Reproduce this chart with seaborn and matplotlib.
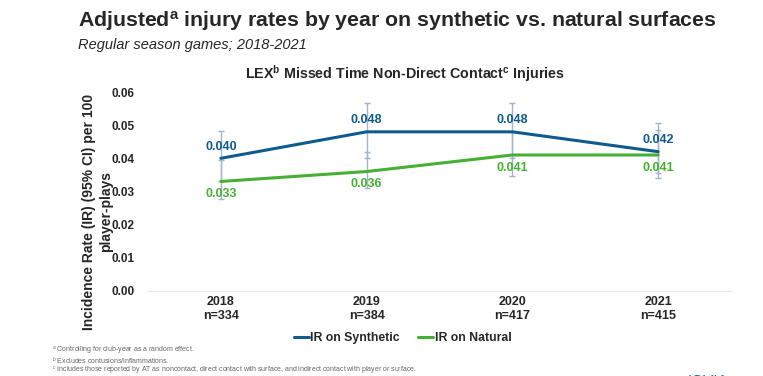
import pandas as pd
import numpy as np
import matplotlib
matplotlib.use('Agg')
import matplotlib.pyplot as plt
import seaborn as sns

sns.set_style('white')
plt.rcParams['font.family'] = ['Liberation Sans', 'DejaVu Sans']
plt.rcParams['mathtext.fontset'] = 'custom'
plt.rcParams['mathtext.rm'] = 'Liberation Sans'
plt.rcParams['mathtext.bf'] = 'Liberation Sans:bold'
plt.rcParams['mathtext.it'] = 'Liberation Sans:italic'

# 데이터
years = ['2018', '2019', '2020', '2021']
n_counts = [334, 384, 417, 415]
synthetic = [0.040, 0.048, 0.048, 0.042]
synthetic_lo = [0.033, 0.040, 0.040, 0.0356]
synthetic_hi = [0.0482, 0.0568, 0.0567, 0.0506]
natural = [0.033, 0.036, 0.041, 0.041]
natural_lo = [0.0276, 0.031, 0.0345, 0.034]
natural_hi = [0.0394, 0.042, 0.048, 0.0486]
yticks = [0.00, 0.01, 0.02, 0.03, 0.04, 0.05, 0.06]

blue = '#0f5b8e'
green = '#46b033'
err_col = '#9fb6cc'

xlabels = [f'{y}\nn={n}' for y, n in zip(years, n_counts)]
df = pd.DataFrame({
    'year': xlabels * 2,
    'ir': synthetic + natural,
    'series': ['IR on Synthetic'] * 4 + ['IR on Natural'] * 4,
})

fig = plt.figure(figsize=(7.63, 3.76), dpi=100)
ax = fig.add_axes([0.194, 0.227, 0.764, 0.528])

pos = np.arange(len(years))
# 신뢰구간 (error bar)
for vals, lo, hi in [(synthetic, synthetic_lo, synthetic_hi), (natural, natural_lo, natural_hi)]:
    v = np.array(vals)
    ax.errorbar(pos, v, yerr=[v - np.array(lo), np.array(hi) - v], fmt='none',
                ecolor=err_col, elinewidth=1, capsize=2, capthick=1, zorder=1)

sns.lineplot(data=df, x='year', y='ir', hue='series', sort=False,
             palette={'IR on Synthetic': blue, 'IR on Natural': green},
             linewidth=2.2, ax=ax, zorder=3)

for i, v in enumerate(synthetic):
    ax.annotate(f'{v:.3f}', (i, v), xytext=(0, 4), textcoords='offset points',
                ha='center', va='bottom', color=blue, fontsize=9, fontweight='bold')
for i, v in enumerate(natural):
    ax.annotate(f'{v:.3f}', (i, v), xytext=(0, -5), textcoords='offset points',
                ha='center', va='top', color=green, fontsize=9, fontweight='bold')

ax.set_xlim(-0.5, 3.5)
ax.set_ylim(0, 0.06)
ax.set_yticks(yticks)
ax.set_yticklabels([f'{t:.2f}' for t in yticks], fontweight='bold', fontsize=8.5)
ax.set_xticks(pos)
ax.set_xticklabels(xlabels, fontweight='bold', fontsize=9, linespacing=1.25)
ax.tick_params(axis='both', length=0)
ax.tick_params(axis='x', pad=4)
ax.tick_params(axis='y', pad=10)
for s in ['top', 'right', 'left']:
    ax.spines[s].set_visible(False)
ax.spines['bottom'].set_color('#e6e6e6')
ax.set_xlabel('')
ax.set_ylabel('')
fig.text(97.5 / 763, 1 - 212 / 376, 'Incidence Rate (IR) (95% CI) per 100\nplayer-plays',
         rotation=90, fontsize=10, fontweight='bold', ha='center', va='center',
         linespacing=1.25, multialignment='center')

ax.legend(loc='center', bbox_to_anchor=(0.437, -0.238), ncol=2, frameon=False,
          handlelength=1.2, handletextpad=0.15, columnspacing=1.5,
          prop={'weight': 'bold', 'size': 8.8})

fig.text(0.102, 0.944, r'Adjusted$^{\mathbf{a}}$ injury rates by year on synthetic vs. natural surfaces',
         fontsize=15.3, fontweight='bold', va='center', ha='left')
fig.text(0.102, 0.88, 'Regular season games; 2018-2021', fontsize=10.5, style='italic',
         va='center', ha='left')
fig.text(0.53, 0.805, r'LEX$^{\mathbf{b}}$ Missed Time Non-Direct Contact$^{\mathbf{c}}$ Injuries',
         fontsize=10.3, fontweight='bold', va='center', ha='center')

notes = [r'$^{a}$ Controlling for club-year as a random effect.',
         r'$^{b}$ Excludes contusions/inflammations.',
         r'$^{c}$ Includes those reported by AT as noncontact, direct contact with surface, and indirect contact with player or surface.']
for k, t in enumerate(notes):
    fig.text(0.068, 0.066 - k * 0.027, t, fontsize=5, color='#666666', va='center', ha='left')

fig.text(0.955, -0.012, 'IQVIA', fontsize=11, color='#1f6fb0', ha='right', va='center')

fig.savefig('out.png', dpi=100)
